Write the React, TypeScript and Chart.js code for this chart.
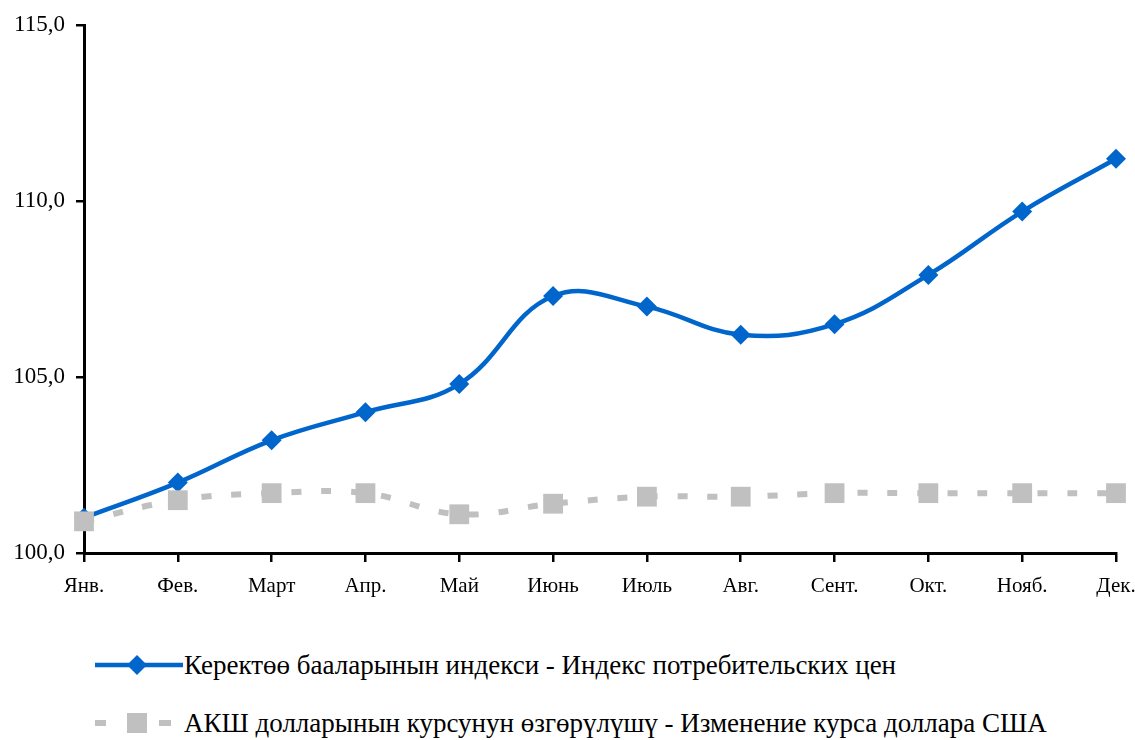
import React, { useEffect, useRef } from "react";
import { Chart, registerables } from "chart.js";

Chart.register(...registerables);

const months = ["Янв.", "Фев.", "Март", "Апр.", "Май", "Июнь", "Июль", "Авг.", "Сент.", "Окт.", "Нояб.", "Дек."];
const cpiValues = [101.0, 102.0, 103.2, 104.0, 104.8, 107.3, 107.0, 106.2, 106.5, 107.9, 109.7, 111.2];
const usdValues = [100.9, 101.5, 101.7, 101.7, 101.1, 101.4, 101.6, 101.6, 101.7, 101.7, 101.7, 101.7];
const cpiLabel = "Керектөө бааларынын индекси - Индекс потребительских цен";
const usdLabel = "АКШ долларынын курсунун өзгөрүлүшү - Изменение курса доллара США";
const yTicks = [100, 105, 110, 115];

const BLUE = "#0066CC";
const GRAY = "#C0C0C0";
const FONT = '"Liberation Serif", "Times New Roman", Times, serif';

export default function App() {
  const ref = useRef<HTMLCanvasElement | null>(null);

  useEffect(() => {
    if (!ref.current) return;
    const chart = new Chart(ref.current, {
      type: "line",
      data: {
        labels: months,
        datasets: [
          {
            label: cpiLabel,
            data: cpiValues,
            borderColor: BLUE,
            backgroundColor: BLUE,
            borderWidth: 4.5,
            pointStyle: "rectRot",
            pointRadius: 10,
            pointBorderWidth: 0,
            pointBackgroundColor: BLUE,
            tension: 0.4,
            clip: false as any,
            order: 1,
          },
          {
            label: usdLabel,
            data: usdValues,
            borderColor: GRAY,
            backgroundColor: GRAY,
            borderWidth: 6,
            borderDash: [10, 20],
            pointStyle: "rect",
            pointRadius: 14,
            pointBorderWidth: 0,
            pointBackgroundColor: GRAY,
            tension: 0.4,
            clip: false as any,
            order: 0,
          },
        ],
      },
      options: {
        animation: false,
        responsive: false,
        maintainAspectRatio: false,
        layout: { padding: { top: 25, right: 19, left: 0, bottom: 0 } },
        plugins: { legend: { display: false }, tooltip: { enabled: false } },
        scales: {
          x: {
            offset: false,
            grid: {
              drawOnChartArea: false,
              drawTicks: true,
              tickLength: 9,
              color: "#000",
              lineWidth: 2.5,
              offset: false,
            },
            border: { display: true, color: "#000", width: 3 },
            ticks: {
              autoSkip: false,
              maxRotation: 0,
              color: "#000",
              padding: 12,
              font: { family: FONT, size: 21 },
            },
            afterFit: (s: any) => {
              s.height = 57;
              s.paddingLeft = 0;
              s.paddingRight = 0;
            },
          },
          y: {
            min: 100,
            max: 115,
            afterBuildTicks: (s: any) => {
              s.ticks = yTicks.map((v) => ({ value: v }));
            },
            grid: {
              drawOnChartArea: false,
              drawTicks: true,
              tickLength: 8,
              color: "#000",
              lineWidth: 2.5,
            },
            border: { display: true, color: "#000", width: 3 },
            ticks: {
              color: "#000",
              padding: 11,
              font: { family: FONT, size: 23 },
              callback: (v: any) => Number(v).toFixed(1).replace(".", ","),
            },
            afterFit: (s: any) => {
              s.width = 84;
              s.paddingTop = 0;
              s.paddingBottom = 0;
            },
          },
        },
      },
    });
    return () => chart.destroy();
  }, []);

  const textStyle: React.CSSProperties = {
    position: "absolute",
    left: 184,
    fontFamily: FONT,
    fontSize: 27,
    color: "#000",
    whiteSpace: "nowrap",
    lineHeight: "30px",
  };

  return (
    <div style={{ position: "absolute", left: 0, top: 0, width: 1135, height: 740, background: "#fff" }}>
      <canvas ref={ref} width={1135} height={610} style={{ position: "absolute", left: 0, top: 0, width: 1135, height: 610 }} />
      <svg style={{ position: "absolute", left: 90, top: 650 }} width={95} height={30}>
        <line x1={5} y1={15} x2={93} y2={15} stroke={BLUE} strokeWidth={4.5} />
        <polygon points="47,5 57,15 47,25 37,15" fill={BLUE} />
      </svg>
      <div style={{ ...textStyle, top: 650 }}>{cpiLabel}</div>
      <svg style={{ position: "absolute", left: 90, top: 708 }} width={95} height={30}>
        <line x1={5} y1={15} x2={16} y2={15} stroke={GRAY} strokeWidth={6} />
        <rect x={37} y={5} width={20} height={20} fill={GRAY} />
        <line x1={69} y1={15} x2={81} y2={15} stroke={GRAY} strokeWidth={6} />
      </svg>
      <div style={{ ...textStyle, top: 708 }}>{usdLabel}</div>
    </div>
  );
}
